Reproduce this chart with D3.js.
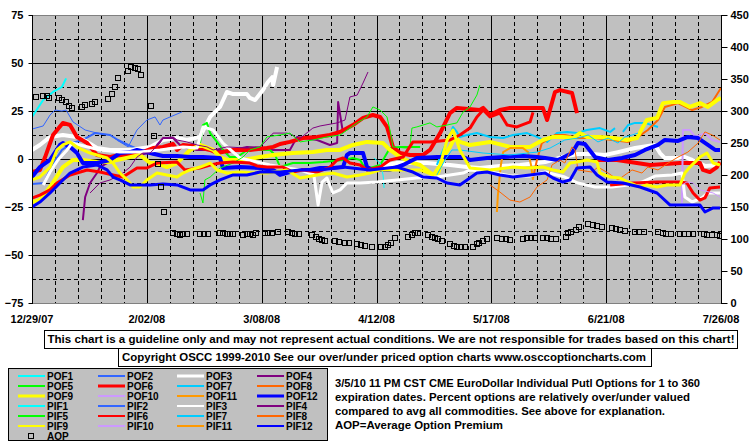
<!DOCTYPE html>
<html><head><meta charset="utf-8">
<script src="https://cdn.jsdelivr.net/npm/d3@7"></script>
<style>
html,body{margin:0;padding:0;background:#fff;}
svg{display:block;font-family:"Liberation Sans",Arial,sans-serif;}
</style></head><body>
<svg id="chart" width="755" height="446"></svg>
<script>
// ---------- categories / ticks ----------
const xTickDays = [0,35,70,105,140,175,210];
const xTickLabels = ["12/29/07","2/02/08","3/08/08","4/12/08","5/17/08","6/21/08","7/26/08"];
const leftTicks = [75,50,25,0,-25,-50,-75];
const rightTicks = [450,400,350,300,250,200,150,100,50,0];

const seriesNames = ["POF1","POF2","POF3","POF4","POF5","POF6","POF7","POF8","POF9","POF10","POF11","POF12",
                     "PIF1","PIF2","PIF3","PIF4","PIF5","PIF6","PIF7","PIF8","PIF9","PIF10","PIF11","PIF12"];
const baseColors = ["#00FFFF","#3366FF","#FFFFFF","#800080","#00FF00","#FF0000","#00CCFF","#FF6600","#FFFF00","#CC99FF","#FF9900","#0000FF"];

// ---------- series values: [day since 12/29/07, percent] ----------
const POF1 = [[0,21.9],[3.4,30.7],[6.4,34.9],[9.1,37.5],[10.4,42.0]];
const POF2 = [[0,-13.0],[3.7,-12.5],[6.1,-3.1],[9.1,4.7],[12.2,8.3],[15.5,9.9],[19.2,13.5],[23.8,12.5],[26.2,9.9],[29.3,7.3],[32.9,4.7],[37.5,2.1],[42.1,2.1]];
const POF3 = [[0,4.7],[2.4,7.3],[5.5,11.5],[9.4,12.5],[13.7,11.5],[16.8,8.9],[19.8,5.7],[23.8,4.7],[29.9,4.7],[36.0,6.3],[39.9,9.9],[44.2,10.9],[47.2,9.9],[51.2,11.5],[54.3,21.9],[57.3,27.1],[59.4,34.9],[61.3,33.8],[65.5,33.8],[66.4,31.8],[68.0,30.7],[70.4,35.9],[71.9,40.1],[73.2,42.6],[73.5,38.5],[74.7,47.9],null,
  [105.2,-4.2],[111.2,-2.1],[116.1,-2.1],[120.4,-2.1],[127.4,-3.1],[132.6,-4.2],[136.5,-4.7],[142.6,-3.6],[148.7,-3.1],[156.4,-1.6],[161.5,1.0],[166.4,2.6],[170.7,2.6],[174.6,2.1],[178.6,3.6],[183.8,5.7],[187.7,6.8],[189.9,7.3],[191.4,3.1],[192.9,0.5],[196.9,0.5],[199.0,1.0],[201.2,-0.5],[205.1,-3.6],[209.7,-3.1]];
const POF4 = [[15.5,-31.8],[16.2,-19.8],[17.7,-12.5],[19.8,-7.3],[20.7,-4.2],[22.9,-2.1],[23.8,-0.5],[29.9,1.0],[36.9,3.6],[38.1,7.3],[39.9,10.9],[43.0,10.9],[45.1,7.3],[47.2,5.7],[50.3,4.7],[55.2,4.7],[58.2,4.7],[59.4,3.1],[61.3,4.7],[65.5,6.3],[71.6,5.7],[73.5,4.7],[78.6,4.7],[80.8,11.5],[86.9,9.9],[90.8,7.3],[93.0,8.3],[93.3,29.7],[94.8,13.5]];
const POF5 = [[51.2,8.3],[52.1,17.7],[53.3,18.8],[54.3,13.5],[56.4,8.9],[58.2,4.7],[60.3,1.0],[62.5,1.0],[64.3,3.1],[66.4,5.7],[68.6,4.7],[72.5,4.7],[74.1,2.1],[75.6,-4.2],[79.5,-2.1],[84.7,-2.1],[88.7,-1.6],[94.8,-0.5],[97.8,0.5],[100.0,-0.5],[100.9,-3.1],[103.0,-4.7],[106.1,-3.1],[109.1,5.7],[112.2,6.3],[118.3,6.3]];
const POF6 = [[0,-6.8],[2.4,-5.7],[4.0,1.0],[6.4,12.5],[9.4,18.8],[11.6,17.7],[13.7,11.5],[16.8,8.3],[19.8,2.1],[23.8,1.0],[26.8,2.1],[29.9,1.6],[32.9,3.1],[36.9,5.7],[39.9,6.3],[43.0,7.8],[44.2,4.7],[46.0,7.3],[49.1,6.8],[54.3,4.7],[56.4,3.1],[61.3,4.7],[66.4,4.7],[71.6,5.7],[73.5,6.3],[75.6,7.8],[78.6,8.9],[82.6,10.9],[86.9,11.5],[90.8,12.5],[93.9,14.1],[97.8,17.7],[100.9,21.4],[103.9,22.9],[106.1,21.9],[108.2,16.7],[110.0,6.3],[112.2,3.1],[115.2,2.1],[119.2,2.1],[121.3,4.7],[124.4,13.5],[127.4,23.9],[129.5,26.6],[136.5,25.5],[137.5,26.6],[139.6,22.9],[142.6,25.5],[145.7,26.6],[155.7,26.6],[157.0,20.3],[159.4,34.9],[160.9,35.9],[164.6,34.4],[166.1,23.9],null,
  [172.2,-0.5],[178.3,-0.5],[188.4,-3.1],[197.5,-2.1],[203.6,-2.1],[204.5,-5.7],[206.6,-6.8],[208.8,-4.2],[209.7,-1.6]];
const POF7 = [[123.4,-3.1],[125.3,4.7],[127.4,12.5],[128.3,16.7],[129.5,14.1],[130.4,11.5],[132.6,12.5],[135.6,13.5],[139.6,11.5],[143.6,10.9],[146.6,12.5],[150.9,13.5],[153.9,11.5],[157.0,8.9],[160.0,13.5],[163.1,14.1],[166.1,13.5],[169.1,15.1],[173.1,16.1],[176.2,14.1],[177.7,16.1],null,
  [180.1,14.1],[181.7,17.7],[183.8,18.8],[186.8,18.8],[190.8,16.7]];
const POF8 = [[152.7,-9.9],[153.9,-0.5],[155.4,8.3],[159.4,12.5],[162.4,12.5],[166.4,10.9],[171.6,10.9],[176.8,9.9],[181.7,8.9],[184.7,11.5],[187.7,15.1],[190.8,20.3],[192.9,27.1],[196.9,29.1],[201.2,25.5],[204.2,27.1],[207.3,29.7],[210,37.0]];
const POF9 = [[0,-22.4],[2.4,-21.4],[5.5,-14.6],[9.4,-4.2],[12.5,-0.5],[15.5,-0.5],[19.8,-1.6],[23.8,-1.6],[25.9,-0.5],[29.9,1.0],[32.9,2.1],[36.0,-2.1],[38.1,-2.1],[41.1,-4.2],[44.2,-2.1],[46.0,1.0],[48.2,4.7],[51.2,7.3],[55.2,4.7],[57.3,1.0],[59.4,-0.5],[64.3,-0.5],[69.5,1.0],[73.5,2.1],[79.5,3.1],[85.6,3.6],[89.9,4.7],[93.9,4.7],[97.8,7.3],[102.1,8.9],[107.0,8.3],[109.1,4.7],[112.2,1.0],[115.2,-1.6],[118.3,-3.1],[122.2,-8.3],[123.4,-9.4],[125.3,1.0],[127.4,6.3],[128.9,11.5],[130.4,8.9],[133.5,7.3],[139.6,8.9],[145.7,6.3],[151.8,6.3],[155.7,9.9],[158.8,11.5],[161.8,11.5],[164.9,10.9],[167.0,13.5],[169.2,11.5],[173.1,11.5],[177.1,10.9],[181.3,9.9],[184.4,10.9],[186.2,16.7],[187.4,20.3],[190.5,21.4],[192.3,29.1],[195.4,29.7],[197.5,29.7],[200.5,27.1],[203.6,29.1],[206.0,27.1],[208.8,30.7],[210,31.8]];
const POF10 = [[198.1,-22.9],[198.4,15.1],[200.5,15.1],[202.1,11.5],[205.1,13.5],[207.3,9.9],[209.7,8.9]];
const POF11 = [[141.7,-27.6],[142.0,-18.8],[142.9,-3.1],[143.6,3.6],[145.7,5.7],[149.6,5.7],[151.2,3.6],[152.1,-3.1],[152.7,-10.9]];
const POF12 = [[0,-9.4],[2.4,-4.2],[5.5,-0.5],[8.5,7.3],[9.4,8.3],[11.6,6.3],[13.7,3.1],[15.5,-2.1],[19.8,-2.1],[23.8,-0.5],[26.8,3.1],[29.9,3.6],[32.0,4.7],[36.0,3.1],[39.9,1.6],[44.2,1.6],[48.2,1.0],[52.1,1.0],[57.3,0.5],[58.2,-4.7],[63.4,-4.2],[69.5,-4.7],[73.5,-5.7],[75.6,-8.3],[78.6,-6.8],[80.8,-5.7],[84.7,-5.7],[87.8,-4.7],[91.7,-4.7],[94.8,-4.2],[96.0,2.1],[96.9,3.1],[100.9,3.1],[102.1,-4.2],[103.9,-5.7],[106.1,-5.7],[109.1,-5.7],[113.1,-3.1],[117.3,0.5],[123.4,1.0],[131.4,1.0],[133.5,-0.5],[138.7,0.5],[143.6,1.0],[149.6,1.6],[153.9,1.0],[156.4,0.5],[160.3,-0.5],[164.6,3.1],[166.4,8.3],[168.5,7.8],[171.6,1.0],[175.6,-0.5],[179.8,0.5],[183.8,2.1],[186.8,4.7],[190.8,7.3],[192.9,9.9],[196.9,9.4],[199.9,11.5],[203.0,10.9],[206.0,7.3],[208.2,4.7],[209.7,4.7]];

const PIF1 = [[104.2,0.5],[106.1,-2.1],[107.0,-8.3],[107.3,-15.1]];
const PIF2 = [[0,15.6],[3.4,17.2],[5.5,22.9],[7.0,25.5],[9.1,25.0],[10.4,25.5],[12.5,19.3],[16.2,15.1],[19.8,13.5],[23.8,12.5],[26.8,8.9],[29.3,6.3],[32.0,15.1],[35.0,20.3],[37.5,21.9],[39.0,17.7],[39.9,20.3],[42.1,21.9],[45.7,24.5]];
const PIF3 = [[3.4,-13.5],[5.5,-6.8],[7.9,-0.5],[10.7,4.7],[12.2,8.3],[14.6,7.3],[20.7,4.7],[26.8,3.6],[32.9,3.6],[39.0,4.7],[46.0,6.3],[50.3,5.7],[52.1,16.7],[55.2,15.1],[58.2,8.3],[63.4,0.5],[72.5,-3.1],[81.7,-5.7],[85.9,-8.3],[87.2,-24.0],[88.4,-12.0],[89.9,-9.9],[91.7,-17.7],[93.9,-16.1],[96.0,-12.5],[100.0,-12.5],[105.2,-12.0],[111.2,-10.9],[117.3,-9.9],[123.4,-9.4],[127.4,-8.3],[131.4,-7.3],[133.5,-5.7],[139.6,-6.8],[145.7,-8.8],[151.8,-8.8],[156.4,-6.8],[162.4,-9.4],[166.4,-12.5],[171.6,-14.6],[176.8,-14.6],[181.7,-13.5],[185.9,-12.0],[189.9,-8.9],[195.1,-8.3],[198.1,-7.3],[199.0,-19.8],[201.2,-22.4],[204.2,-20.3],[206.0,-17.7],[209.7,-17.7]];
const PIF4 = [[17.7,-17.7],[20.7,-12.5],[23.8,-10.9],[27.7,-7.3],[29.9,-4.2],[32.0,1.0],[33.8,3.1],[36.0,3.1],[39.0,8.3],[39.9,10.9],[43.0,11.5],[44.2,9.9],[47.2,8.9],[50.3,7.3],[53.3,6.3],[55.2,4.7],[59.4,6.3],[65.5,5.7],[69.5,6.3],[72.5,11.5],[73.5,13.5],[77.7,13.5],[79.5,12.5],[81.1,9.9],[85.6,16.1],[87.8,17.2],[93.0,18.8],[95.4,20.3],[96.9,32.3],[99.1,33.3],[100.9,39.6],[102.4,45.3]];
const PIF5 = [[51.2,-17.7],[52.1,-22.9],[52.7,-10.9],[54.3,-9.4],[57.3,-4.7],[61.3,-2.1],[64.3,1.0],[66.4,4.7],[69.5,6.3],[71.6,11.5],[75.6,12.5],[78.6,13.5],[81.7,8.9],[85.6,9.9],[89.9,11.5],[93.9,12.5],[99.1,18.8],[102.1,21.9],[103.9,27.1],[106.1,25.5],[108.2,21.9],[109.1,15.1],[110.0,6.3],[114.3,5.7],[115.2,6.3],[115.8,16.1],[117.3,16.7],[121.3,18.8],[123.4,16.7],[126.5,17.7],[129.5,18.8],[131.4,24.5],[133.5,27.1],[135.6,33.3],[136.5,38.5]];
const PIF6 = [[0,-20.3],[2.4,-18.8],[5.5,-16.1],[7.6,-12.5],[11.6,-8.3],[16.8,-5.7],[20.7,-6.8],[24.7,-8.3],[27.7,-9.4],[32.0,-4.7],[35.0,-4.7],[38.1,-2.1],[44.2,-1.6],[46.6,-5.7],[51.2,-4.7],[54.3,-3.1],[57.3,-2.1],[61.3,-1.6],[66.4,-2.1],[68.6,-3.6],[71.6,-4.2],[76.5,-4.2],[79.5,-6.8],[82.6,-5.7],[86.9,-6.8],[90.8,-4.2],[93.0,-0.5],[94.8,0.5],[96.9,-2.1],[100.0,-3.1],[102.1,-5.7],[106.1,-4.2],[109.1,-0.5],[113.1,1.0],[116.1,8.9],[121.3,8.9],[127.4,9.9],[130.4,12.5],[133.5,16.1],[135.6,21.9],[137.5,25.5],[139.6,21.9],[142.6,23.9],[144.8,17.7],[147.8,16.7],[151.8,19.3],[152.7,24.3],null,
  [176.2,-13.5],[183.2,-12.5],[190.5,-12.0],[197.5,-12.0],[199.6,-12.5],[201.5,-17.7],[203.6,-21.4],[205.1,-20.3],[206.6,-15.1],[209.7,-14.6]];
const PIF7 = [[123.4,-8.3],[125.9,-0.5],[128.0,4.7],[130.4,4.7],[137.5,3.1],[145.7,2.1],[153.9,3.6],[157.9,5.7],[162.4,9.9],[166.4,10.9],[169.5,12.5],[172.5,8.9],[175.6,10.9],[178.6,8.3],[180.7,11.5],[182.9,12.5],[184.7,13.5]];
const PIF8 = [[139.6,-13.5],[142.6,-17.2],[145.7,-21.4],[148.7,-22.4],[151.8,-19.8],[153.9,-14.6],[157.0,-10.9],[158.5,-3.1],[160.9,-0.5],[162.4,-2.1],[164.6,6.3],[165.5,4.7],[166.4,-5.7],[170.7,-6.8],[172.5,-4.2],[175.6,-7.3],[178.6,-10.9],[182.9,-5.7],[185.9,-7.3],[187.7,-4.2],[190.8,-5.7],[193.9,-2.1],[196.9,1.0],[199.9,3.6],[203.0,8.3],[205.1,14.1],[207.3,12.5],[209.7,9.9]];
const PIF9 = [[0,-10.9],[2.4,-9.4],[5.5,-4.2],[7.6,4.7],[9.4,7.3],[11.6,8.9],[13.7,6.3],[15.5,4.7],[17.7,3.1],[19.8,2.1],[22.9,0.5],[24.7,-2.1],[26.8,-7.3],[29.0,-10.9],[30.8,-14.6],[32.9,-14.6],[35.0,-10.9],[38.1,-7.3],[41.1,-8.3],[44.2,-9.4],[46.0,-7.3],[48.2,-5.7],[51.2,-4.2],[54.3,-2.1],[56.4,-5.7],[59.4,-7.3],[63.4,-6.8],[68.6,-7.3],[71.6,-7.3],[77.7,-5.7],[81.7,-9.9],[86.9,-8.3],[91.7,-7.3],[96.0,-9.4],[100.0,-8.3],[103.0,-7.3],[106.1,-5.7],[112.2,-5.7],[118.3,-5.7],[122.2,-8.3],[124.4,-3.1],[126.5,9.9],[128.3,15.1],[130.4,4.7],[133.5,-4.7],[139.6,-5.7],[146.6,-4.2],[150.9,-4.7],[155.7,-4.2],[158.8,-5.7],[161.8,-6.8],[164.0,-2.1],[166.1,-1.6],[169.2,-0.5],[172.2,-1.6],[173.1,-7.3],[176.2,-9.4],[179.2,-9.9],[182.3,-12.5],[185.3,-14.6],[187.4,-13.5],[190.5,-14.6],[193.5,-13.5],[197.5,-13.5],[199.0,-7.3],[200.5,-4.2],[203.6,1.0],[205.7,3.1],[207.6,-2.1],[209.7,-3.1]];
const PIF10 = [[198.1,-13.5],[199.6,-12.0],[201.5,-12.5],[203.6,-16.1],[207.6,-17.7],[209.7,-19.8]];
const PIF11 = [];
const PIF12 = [[0,-25.0],[2.4,-22.4],[5.5,-17.7],[8.5,-12.5],[11.6,-7.3],[15.5,-4.2],[19.8,-3.1],[22.9,-5.7],[24.7,-9.4],[26.8,-10.9],[29.9,-13.5],[32.9,-13.5],[36.0,-13.5],[39.9,-13.0],[44.2,-13.5],[48.2,-16.1],[52.1,-16.1],[54.3,-13.5],[57.3,-10.9],[61.3,-8.3],[65.5,-8.3],[69.5,-6.8],[75.6,-6.8],[81.7,-5.7],[87.8,-5.7],[94.8,-4.2],[103.0,-5.7],[111.2,-4.2],[116.1,-6.8],[119.2,-9.4],[123.4,-9.9],[126.5,-12.5],[130.4,-13.5],[132.6,-10.9],[135.6,-7.3],[138.7,-6.8],[142.6,-8.3],[146.6,-9.4],[151.8,-8.3],[156.4,-7.3],[158.8,-9.9],[161.8,-12.0],[164.0,-10.9],[166.1,-4.7],[170.1,-4.2],[172.2,-8.3],[175.3,-12.0],[180.1,-12.5],[185.3,-14.6],[190.5,-17.7],[194.5,-24.0],[203.6,-24.0],[205.1,-27.6],[207.6,-25.5],[209.7,-25.5]];

// AOP: [day, average option premium] on right axis
const AOP = [[1.2,322],[3.4,323],[4.6,323],[5.2,320],[8.2,320],[9.1,317],[10.4,314],[11.3,308],[12.2,305],[15.2,306],[16.2,309],[18.3,311],[19.2,314],[23.2,319],[24.4,327],[25.3,338],[26.2,352],[29.3,363],[30.2,369],[31.4,367],[32.3,366],[33.2,356],[36.3,308],[37.2,261],[38.4,217],[39.3,181],[40.2,142],[43.0,109],[44.2,108],[45.1,106],[46.0,108],[47.2,108],[51.2,108],[52.4,108],[53.6,108],[57.3,109],[58.2,109],[59.4,108],[60.3,108],[61.3,108],[64.3,106],[65.5,108],[66.4,108],[67.4,107],[68.3,109],[71.0,109],[71.9,109],[73.2,109],[75.0,111],[78.0,111],[79.2,109],[80.2,108],[81.4,108],[85.3,106],[86.6,103],[87.5,100],[88.4,98],[89.3,97],[92.3,97],[93.6,95],[95.4,94],[96.6,94],[99.1,92],[100.3,91],[101.5,89],[103.6,88],[106.4,88],[107.6,88],[108.5,91],[109.4,94],[110.6,102],[114.6,103],[115.8,106],[116.7,109],[117.6,109],[120.7,106],[121.9,103],[122.8,102],[123.7,100],[125.0,97],[127.4,92],[128.6,89],[129.5,88],[130.8,88],[132.0,88],[134.4,88],[135.6,92],[136.2,94],[137.5,97],[138.7,100],[141.7,102],[143.3,100],[144.5,100],[145.7,98],[149.6,100],[150.9,102],[152.1,102],[153.3,102],[155.7,102],[157.0,102],[158.2,100],[159.7,100],[162.8,103],[163.4,109],[164.3,111],[165.8,114],[166.7,119],[169.5,123],[171.0,122],[172.2,120],[173.7,119],[176.8,117],[178.0,116],[179.2,114],[180.7,113],[183.8,111],[185.0,111],[186.5,111],[190.8,111],[192.3,109],[193.2,108],[194.8,108],[197.5,108],[198.7,108],[200.2,108],[201.5,108],[204.8,108],[205.7,106],[207.3,106],[208.8,106],[209.7,105]];

const disclaimer = "This chart is a guideline only and may not represent actual conditions. We are not responsible for trades based on this chart!";
const copyright = "Copyright OSCC 1999-2010 See our over/under priced option charts www.osccoptioncharts.com";
const noteLines = ["3/5/10 11 PM CST CME EuroDollar Individual Putl Options for 1 to 360",
                   "expiration dates. Percent options are relatively over/under valued",
                   "compared to avg all commodities. See above for explanation.",
                   "AOP=Average Option Premium"];

// ---------- drawing ----------
const seriesData = [POF1,POF2,POF3,POF4,POF5,POF6,POF7,POF8,POF9,POF10,POF11,POF12,
                    PIF1,PIF2,PIF3,PIF4,PIF5,PIF6,PIF7,PIF8,PIF9,PIF10,PIF11,PIF12];
const series = seriesNames.map((n,i)=>{
  const k = i % 12, isPOF = i < 12, big = [2,5,8,11].includes(k);
  return {name:n, color:baseColors[k], data:seriesData[i],
          width: big ? (isPOF ? 4 : 3) : (isPOF ? 2 : 1)};
});

const svg = d3.select("#chart");
const P = {l:32, t:15, r:721, b:303};
const x = d3.scaleLinear().domain([0,210]).range([P.l,P.r]);
const yL = d3.scaleLinear().domain([-75,75]).range([P.b,P.t]);
const yR = d3.scaleLinear().domain([0,450]).range([P.b,P.t]);
const FONT = "bold 11px 'Liberation Sans', Arial, sans-serif";
const LFONT = "bold 10px 'Liberation Sans', Arial, sans-serif";

svg.append("rect").attr("width",755).attr("height",446).attr("fill","#fff");
svg.append("rect").attr("x",P.l).attr("y",P.t).attr("width",P.r-P.l).attr("height",P.b-P.t).attr("fill","#C0C0C0");

// gridlines
const grid = svg.append("g");
d3.range(-62.5, 75, 12.5).forEach(v=>{
  const solid = Math.abs(v % 25) < 1e-9;
  grid.append("line").attr("x1",P.l).attr("x2",P.r)
    .attr("y1",Math.round(yL(v))+0.5).attr("y2",Math.round(yL(v))+0.5)
    .attr("stroke","#000").attr("stroke-width",1)
    .attr("stroke-dasharray", solid ? null : "4,3");
});
d3.range(7, 210, 7).forEach(d=>{
  const solid = d % 35 === 0;
  grid.append("line").attr("y1",P.t).attr("y2",P.b)
    .attr("x1",Math.round(x(d))+0.5).attr("x2",Math.round(x(d))+0.5)
    .attr("stroke","#000").attr("stroke-width",1)
    .attr("stroke-dasharray", solid ? null : "4,3");
});

// lines
svg.append("clipPath").attr("id","clip").append("rect")
  .attr("x",P.l).attr("y",P.t).attr("width",P.r-P.l).attr("height",P.b-P.t);
const lineGen = d3.line().defined(d=>d!==null).x(d=>x(d[0])).y(d=>yL(d[1]));
const lg = svg.append("g").attr("clip-path","url(#clip)");
series.forEach(s=>{
  if(!s.data.length) return;
  lg.append("path").attr("d",lineGen(s.data)).attr("fill","none")
    .attr("stroke",s.color).attr("stroke-width",s.width)
    .attr("stroke-linejoin","round").attr("stroke-linecap","butt");
});

// AOP markers
lg.selectAll("rect.aop").data(AOP).enter().append("rect").attr("class","aop")
  .attr("x",d=>Math.round(x(d[0]))-2.5).attr("y",d=>Math.round(yR(d[1]))-2.5)
  .attr("width",5).attr("height",5).attr("fill","none").attr("stroke","#000").attr("stroke-width",1);

// frame
svg.append("line").attr("x1",P.l).attr("x2",P.r).attr("y1",P.t+0.5).attr("y2",P.t+0.5).attr("stroke","#808080");
svg.append("line").attr("x1",P.l).attr("x2",P.r).attr("y1",P.b+0.5).attr("y2",P.b+0.5).attr("stroke","#808080");

// axes
const axL = svg.append("g").attr("transform",`translate(${P.l+0.5},0)`)
  .call(d3.axisLeft(yL).tickValues(leftTicks).tickSize(4).tickPadding(5).tickFormat(d3.format("d")));
const axR = svg.append("g").attr("transform",`translate(${P.r+0.5},0)`)
  .call(d3.axisRight(yR).tickValues(rightTicks).tickSize(6).tickPadding(3).tickFormat(d3.format("d")));
[axL,axR].forEach(a=>{
  a.selectAll("path.domain").attr("stroke","#000").attr("d", `M0,${P.t}V${P.b+1}`);
  a.selectAll(".tick line").attr("stroke","#000");
  a.selectAll("text").style("font",FONT).attr("fill","#000");
});
const xAx = svg.append("g");
xTickDays.forEach((d,i)=>{
  xAx.append("text").attr("x",x(d)).attr("y",323).attr("text-anchor","middle")
    .style("font",FONT).text(xTickLabels[i]);
});

// text boxes
function box(x0,y0,w,h,txt,tx,ty,tl){
  svg.append("rect").attr("x",x0+0.5).attr("y",y0+0.5).attr("width",w).attr("height",h)
    .attr("fill","#fff").attr("stroke","#000");
  svg.append("text").attr("x",tx).attr("y",ty).attr("text-anchor","middle").style("font",FONT)
    .attr("textLength",tl).attr("lengthAdjust","spacingAndGlyphs").text(txt);
}
box(44,330,693,18,disclaimer,391,343,687);
box(118,348,533,18,copyright,384,361,524);

// legend
svg.append("rect").attr("x",8.5).attr("y",368.5).attr("width",319).attr("height",72)
  .attr("fill","#C0C0C0").attr("stroke","#000");
const colX = [18,98,177,257];
const rowY = [376,386,396,406,416,426,436];
series.forEach((s,i)=>{
  const c = i % 4, r = Math.floor(i/4);
  svg.append("line").attr("x1",colX[c]).attr("x2",colX[c]+27).attr("y1",rowY[r]).attr("y2",rowY[r])
    .attr("stroke",s.color).attr("stroke-width",Math.max(2,s.width-1));
  svg.append("text").attr("x",colX[c]+29).attr("y",rowY[r]+4).style("font",LFONT).text(s.name);
});
svg.append("rect").attr("x",28.5).attr("y",433.5).attr("width",5).attr("height",5)
  .attr("fill","none").attr("stroke","#000");
svg.append("text").attr("x",47).attr("y",rowY[6]+4).style("font",LFONT).text("AOP");

// notes
const noteLen = [365,355,330,168];
noteLines.forEach((t,i)=>{
  svg.append("text").attr("x",335).attr("y",387+i*14).style("font",FONT)
    .attr("textLength",noteLen[i]).attr("lengthAdjust","spacingAndGlyphs").text(t);
});
</script></body></html>
